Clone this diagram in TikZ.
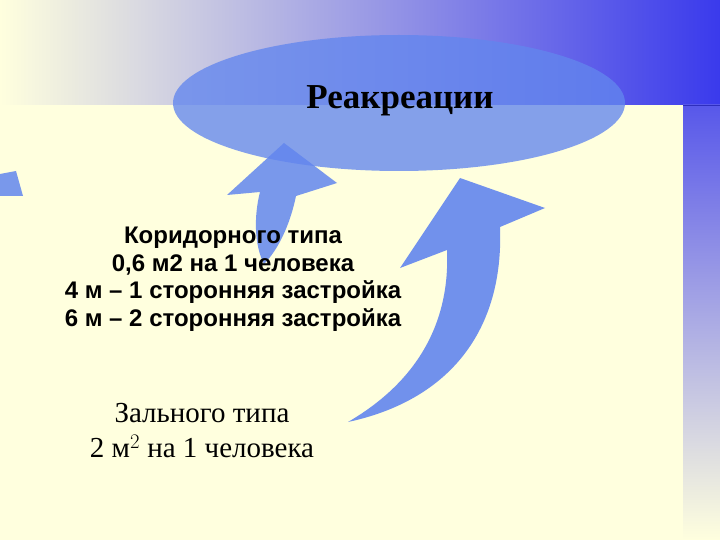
\documentclass[tikz,border=0pt]{standalone}
\usepackage{fontspec}
\setmainfont{Liberation Serif}
\setsansfont{Liberation Sans}
\usepackage{tikz}

\definecolor{paper}{RGB}{255,255,222}
\definecolor{bandmid}{RGB}{212,212,232}
\definecolor{bandblue}{RGB}{58,58,236}
\definecolor{arrowblue}{RGB}{98,134,238}

\begin{document}
\begin{tikzpicture}[x=1pt, y=-1pt]
  \useasboundingbox (0,0) rectangle (720,540);
  \fill[paper] (0,0) rectangle (720,540);

  % top band and right band
  \shade[left color=paper, middle color=bandmid, right color=bandblue] (0,0) rectangle (720,105);
  \shade[top color=bandblue!85!paper, bottom color=paper] (683,105) rectangle (720,540);
  \draw[bandblue!80!black, thin] (683,105) -- (720,105);

  % cloud
  \fill[arrowblue, opacity=0.78] (399,103) ellipse [x radius=226, y radius=68];
  \node[font=\bfseries\fontsize{35}{40}\selectfont] (rekr) at (400,101) {Реакреации};

  % arrows
  \fill[arrowblue, opacity=0.85] (0,174) -- (16,171) -- (23,196) -- (0,196) -- cycle;
  \fill[arrowblue, opacity=0.85] (284,143) -- (337,183) -- (296,196)
      .. controls (290,225) and (278,250) .. (264,264)
      .. controls (254,245) and (254,215) .. (260,192)
      -- (227,195) -- cycle;
  \fill[arrowblue, opacity=0.9] (460,178) -- (545,208) -- (500,227)
      .. controls (504,330) and (450,400) .. (348,422)
      .. controls (420,380) and (450,320) .. (447,250)
      -- (400,268) -- cycle;

  % texts
  \node[font=\sffamily\bfseries\fontsize{24}{27.5}\selectfont, align=center] (kor) at (233,279)
    {Коридорного типа\\0,6 м2 на 1 человека\\4 м -- 1 сторонняя застройка\\6 м -- 2 сторонняя застройка};
  \node[font=\fontsize{29}{35}\selectfont, align=center] (zal) at (202,431)
    {Зального типа\\2 м$^2$ на 1 человека};
\end{tikzpicture}
\end{document}
